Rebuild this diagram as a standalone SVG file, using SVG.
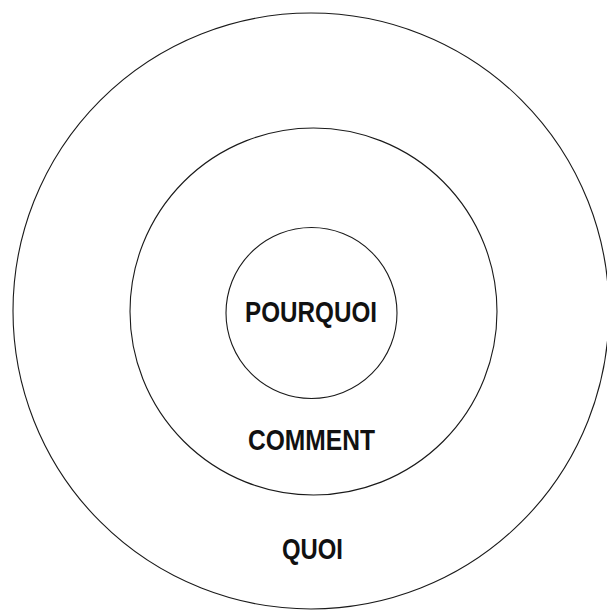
<svg xmlns="http://www.w3.org/2000/svg" width="607" height="611" viewBox="0 0 607 611">
<style>
.ring{fill:none;stroke:#1a1a1a;stroke-width:1.1}
.lbl{font-family:"Liberation Sans",Arial,sans-serif;font-weight:bold;font-size:30px;fill:#111}
</style>
<rect width="607" height="611" fill="#fff"/>
<g id="outer">
<circle class="ring" cx="311" cy="311" r="298"/>
<text class="lbl" x="282" y="559" textLength="61" lengthAdjust="spacingAndGlyphs">QUOI</text>
</g>
<g id="middle">
<circle class="ring" cx="313.5" cy="311.5" r="183.5"/>
<text class="lbl" x="248" y="450" textLength="127" lengthAdjust="spacingAndGlyphs">COMMENT</text>
</g>
<g id="inner">
<circle class="ring" cx="311.5" cy="313" r="85.5"/>
<text class="lbl" x="245" y="322" textLength="132" lengthAdjust="spacingAndGlyphs">POURQUOI</text>
</g>
<g id="connectors"></g>
</svg>
